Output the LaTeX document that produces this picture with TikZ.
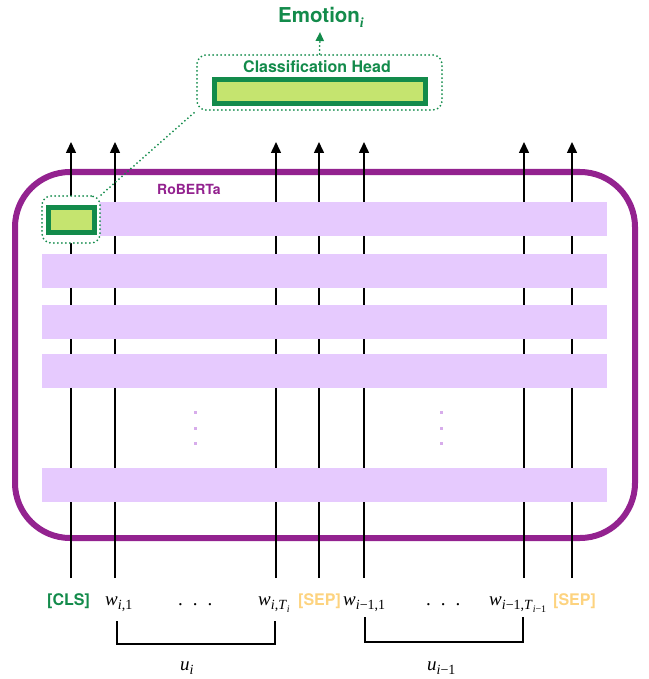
\documentclass[tikz,border=0pt]{standalone}
\usepackage{fontspec}
\setsansfont{TeX Gyre Heros}
\newfontfamily\wordfont{Liberation Serif}
\usetikzlibrary{positioning,arrows.meta}

\definecolor{robpurple}{HTML}{93228F}
\definecolor{layerpurple}{HTML}{E6CAFE}
\definecolor{headgreen}{HTML}{138B4B}
\definecolor{headfill}{HTML}{C5E46F}
\definecolor{sepyellow}{HTML}{FDD37F}

\newcommand{\subidx}[1]{\raisebox{-4.5pt}{\fontsize{14}{14}\selectfont #1}}
\newcommand{\subsubidx}[1]{\raisebox{-2.5pt}{\fontsize{10}{10}\selectfont #1}}
\newcommand{\tokw}[1]{\textit{w}\subidx{#1}}

\begin{document}
\begin{tikzpicture}[x=1pt,y=-1pt,
        layer/.style={fill=layerpurple,draw=none},
        headbox/.style={draw=headgreen,fill=headfill,line width=5pt,inner sep=0pt},
        dotbox/.style={draw=headgreen,line width=2pt,line cap=round,dash pattern=on 0pt off 4pt,rounded corners=9pt,inner sep=0pt},
        dotline/.style={draw=headgreen,line width=2pt,line cap=round,dash pattern=on 0pt off 4pt},
        tok/.style={font=\sffamily\bfseries\fontsize{16}{16}\selectfont,anchor=base west,inner sep=0pt},
        word/.style={font=\wordfont\fontsize{19}{19}\selectfont,anchor=base west,inner sep=0pt},
        flow/.style={line width=1.5pt,-{Triangle[width=10pt,length=11pt]}},
        bracket/.style={line width=1.8pt}]
        \useasboundingbox (0,0) rectangle (648,679);

        % encoder frame
        \draw[robpurple,line width=6pt,rounded corners=55pt] (15,172) rectangle (635,538);
        \node[font=\sffamily\bfseries\fontsize{14}{14}\selectfont,text=robpurple,anchor=base west,inner sep=0pt] (roberta) at (157,194) {RoBERTa};

        % token streams
        \foreach \x [count=\k] in {71,115,276,319,364,524,572} {
            \coordinate (in\k) at (\x,578);
            \coordinate (out\k) at (\x,142);
            \draw[flow] (in\k) -- (out\k);
        }

        % layers
        \foreach \y in {202,254,305,354,468}
            \fill[layer] (42,\y) rectangle (607,\y+34);
        \foreach \y in {411,427,442} {
            \fill[layerpurple!85!violet] (194,\y) rectangle ++(2.5,2.5);
            \fill[layerpurple!85!violet] (440,\y) rectangle ++(2.5,2.5);
        }

        % CLS vector and classification head
        \node[dotbox,fill=white,minimum width=58pt,minimum height=47pt] (clsfocus) at (71,219.5) {};
        \node[headbox,minimum width=46pt,minimum height=25pt] (clsvec) at (71.5,220) {};
        \node[dotbox,minimum width=245pt,minimum height=55pt] (headfocus) at (319.5,82.5) {};
        \node[headbox,minimum width=211pt,minimum height=24pt] (head) at (320,91.5) {};
        \node[font=\sffamily\bfseries\fontsize{16}{16}\selectfont,text=headgreen,anchor=base,inner sep=0pt] (headlabel) at (317,73) {Classification Head};
        \node[font=\sffamily\bfseries\fontsize{20.5}{20.5}\selectfont,text=headgreen,anchor=base west,inner sep=0pt] (emotion) at (278,23) {Emotion{\wordfont\subidx{\textit{i}}}};
        \coordinate (emotip) at (320,32);

        \draw[dotline] (clsfocus.north east) -- (headfocus.south west);
        \draw[dotline,-{Triangle[width=8pt,length=9pt]}] (headfocus.north) -- (emotip);

        % inputs
        \node[tok,text=headgreen] (cls) at (47,605) {[CLS]};
        \node[word] (w1) at (105,605) {\tokw{\textit{i},1}};
        \node[word] (dotsa) at (178,605) {.\hspace{10pt}.\hspace{10pt}.};
        \node[word] (wT) at (258,605) {\tokw{\textit{i},\textit{T}\subsubidx{\textit{i}}}};
        \node[tok,text=sepyellow] (sepa) at (298,605) {[SEP]};
        \node[word] (v1) at (343,605) {\tokw{\textit{i}−1,1}};
        \node[word] (dotsb) at (426,605) {.\hspace{10pt}.\hspace{10pt}.};
        \node[word] (vT) at (489,605) {\tokw{\textit{i}−1,\textit{T}\subsubidx{\textit{i}−1}}};
        \node[tok,text=sepyellow] (sepb) at (553,605) {[SEP]};

        % utterances
        \draw[bracket] (117,621) |- (275,644) -- (275,621);
        \draw[bracket] (365,617) |- (523,642) -- (523,617);
        \node[word] (ui) at (180,670) {\textit{u}\subidx{\textit{i}}};
        \node[word] (uprev) at (427,670) {\textit{u}\subidx{\textit{i}−1}};
    \end{tikzpicture}
\end{document}
